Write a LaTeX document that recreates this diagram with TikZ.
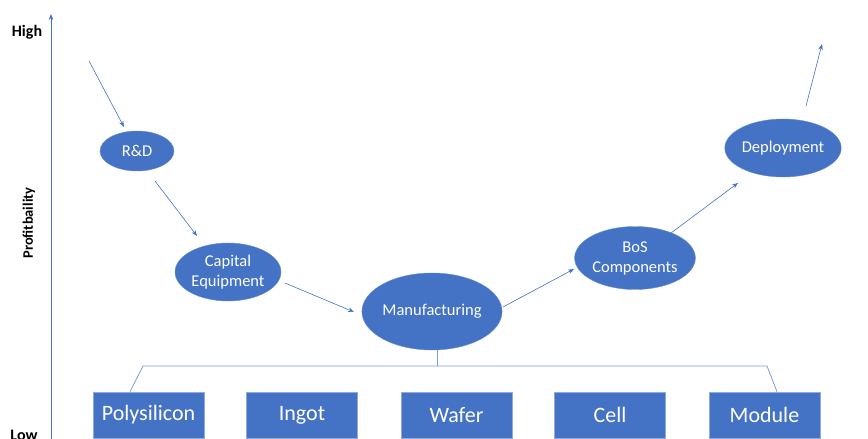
\documentclass[tikz,border=0pt]{standalone}
\usepackage{fontspec}
\setmainfont{Carlito}
\usetikzlibrary{arrows.meta,calc,shapes.geometric}
\definecolor{obl}{HTML}{4472C4}
\definecolor{obd}{HTML}{8FAADC}
\tikzset{
  ell/.style={ellipse, fill=obl, draw=obl!80!white, line width=0.4pt, inner sep=0pt,
    text=white, font=\fontsize{16.5}{20}\selectfont, align=center},
  stagebox/.style={rectangle, fill=obl, draw=obd, line width=0.6pt, inner sep=0pt,
    minimum width=111, minimum height=46, text=white, font=\fontsize{22}{26}\selectfont},
  arr/.style={draw=obl, line width=0.6pt, -{Stealth[length=6pt,width=4.5pt]}},
  brk/.style={draw=obl!70!white, line width=0.8pt},
  axlab/.style={font=\bfseries\fontsize{16}{19}\selectfont, text=black, inner sep=0pt}
}
\begin{document}
\begin{tikzpicture}[x=1pt,y=-1pt]
\useasboundingbox (0,0) rectangle (868,439);
% axis
\coordinate (axbot) at (51,439);
\coordinate (axtop) at (51,14);
\draw[draw=obl, line width=0.8pt, -{Stealth[length=6pt,width=4.5pt]}] (axbot) -- (axtop);
\node[axlab] (high) at (27,32) {High};
\node[axlab, anchor=base] (low) at (24,440.5) {Low};
\node[axlab, font=\bfseries\fontsize{14.5}{17}\selectfont, rotate=90] (prof) at (29,223) {Profitbaility};
% ellipses
\node[ell, minimum width=74, minimum height=40] (rd) at (137,151) {R\&D};
\node[ell, minimum width=106, minimum height=58] (cap) at (228,272) {Capital\\Equipment};
\node[ell, minimum width=124, minimum height=77] (manu) at (432,311.5) {Manufacturing};
\node[ell, minimum width=105, minimum height=63] (bos) at (635,258) {BoS\\Components};
\node[ell, minimum width=105, minimum height=58] (dep) at (783,148) {Deployment};
% boxes
\node[stagebox] (poly) at (148.5,415) {Polysilicon};
\node[stagebox] (ingot) at (302,415) {Ingot};
\node[stagebox] (wafer) at (456.5,415) {Wafer};
\node[stagebox] (cell) at (610,415) {Cell};
\node[stagebox] (module) at (764.5,415) {Module};
% arrows
\coordinate (start) at (89,61);
\coordinate (finish) at (822,44);
\draw[arr] (start) -- ($(rd)+(-13,-24)$);
\draw[arr] ($(rd)+(18,30)$) -- ($(cap)+(-31,-36)$);
\draw[arr] ($(cap)+(57,11)$) -- ($(manu)+(-78,0.5)$);
\draw[arr] ($(manu)+(71,-4.5)$) -- ($(bos)+(-61,11)$);
\draw[arr] ($(bos)+(36,-25)$) -- ($(dep)+(-45,35)$);
\draw[arr] ($(dep)+(23,-42)$) -- (finish);
% bracket
\coordinate (bl) at (143,366);
\coordinate (br) at (767,366);
\draw[brk] ($(manu.south)+(5,0)$) -- ($(manu.south |- bl)+(5,0)$);
\draw[brk] ($(poly.north)+(-18.5,0)$) -- (bl) -- (br) -- ($(module.north)+(12.5,0)$);
\end{tikzpicture}
\end{document}
